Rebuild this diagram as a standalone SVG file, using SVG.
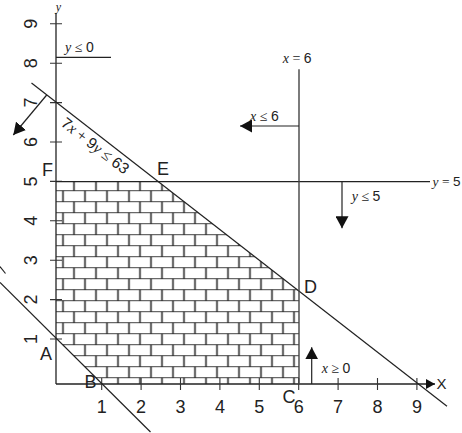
<svg xmlns="http://www.w3.org/2000/svg" width="462" height="433" viewBox="0 0 462 433">
<style>
  .ln{stroke:#222;stroke-width:1.2;fill:none}
  .ax{stroke:#222;stroke-width:1.3;fill:none}
  .tk{stroke:#333;stroke-width:1.1}
  .num{font-family:"Liberation Sans",Arial,sans-serif;font-size:18px;fill:#222}
  .pt{font-family:"Liberation Sans",Arial,sans-serif;font-size:18px;fill:#222}
  .eq{font-family:"Liberation Serif","Times New Roman",serif;font-size:14px;fill:#222}
  .i{font-style:italic}
  .n{font-family:"Liberation Sans",Arial,sans-serif}
</style>
<defs>
  <pattern id="brick" patternUnits="userSpaceOnUse" x="57.5" y="185.2" width="22" height="22">
    <path d="M0,5.5H22M0,16.5H22" stroke="#444" stroke-width="1.1"/>
    <path d="M5.5,5.5V16.5M16.5,16.5V22M16.5,0V5.5" stroke="#111" stroke-width="1.4"/>
  </pattern>
  <marker id="ah" markerUnits="userSpaceOnUse" viewBox="0 0 12 13" refX="12" refY="6.5" markerWidth="12" markerHeight="13" orient="auto">
    <path d="M0,0L12,6.5L0,13z" fill="#111"/>
  </marker>
  <marker id="ahs" markerUnits="userSpaceOnUse" viewBox="0 0 9 10" refX="9" refY="5" markerWidth="9" markerHeight="10" orient="auto">
    <path d="M0,0L9,5L0,10z" fill="#111"/>
  </marker>
</defs>

<g id="feasible-region">
  <polygon points="56,338.1 56,181.7 158.5,181.7 299,291 299,384 102.2,384" fill="url(#brick)" stroke="none"/>
</g>

<g id="axes">
  <line class="ax" x1="56" y1="13" x2="56" y2="384"/>
  <line class="ax" x1="56" y1="384" x2="435" y2="384" marker-end="url(#ahs)"/>
  <g id="x-ticks">
    <path class="tk" d="M101.7,378V390M141.1,378V390M180.5,378V390M219.9,378V390M259.3,378V390M298.7,378V390M338.1,378V390M377.5,378V390M416.9,378V390"/>
  </g>
  <g id="y-ticks">
    <path class="tk" d="M50,339H62M50,299.6H62M50,260.2H62M50,220.8H62M50,181.4H62M50,142H62M50,102.6H62M50,63.2H62M50,23.8H62"/>
  </g>
  <g id="x-labels" class="num" text-anchor="middle">
    <text x="101.7" y="413">1</text>
    <text x="141.1" y="413">2</text>
    <text x="180.5" y="413">3</text>
    <text x="219.9" y="413">4</text>
    <text x="259.3" y="413">5</text>
    <text x="298.7" y="413">6</text>
    <text x="338.1" y="413">7</text>
    <text x="377.5" y="413">8</text>
    <text x="416.9" y="413">9</text>
  </g>
  <g id="y-labels" class="num" text-anchor="middle">
    <text transform="translate(37,339) rotate(-90)">1</text>
    <text transform="translate(37,299.6) rotate(-90)">2</text>
    <text transform="translate(37,260.2) rotate(-90)">3</text>
    <text transform="translate(37,220.8) rotate(-90)">4</text>
    <text transform="translate(37,181.4) rotate(-90)">5</text>
    <text transform="translate(37,142) rotate(-90)">6</text>
    <text transform="translate(37,102.6) rotate(-90)">7</text>
    <text transform="translate(37,63.2) rotate(-90)">8</text>
    <text transform="translate(37,23.8) rotate(-90)">9</text>
  </g>
  <text class="eq i" x="58.5" y="10.5" text-anchor="middle" style="font-size:12px">y</text>
  <text x="436.5" y="388.5" style="font-family:'Liberation Sans',Arial,sans-serif;font-size:15px;fill:#222">X</text>
</g>

<g id="connectors">
  <line class="ln" x1="31.5" y1="83" x2="447" y2="406.2"/>
  <line class="ln" x1="0" y1="282.5" x2="150.5" y2="432"/>
  <line class="ln" x1="0" y1="266.5" x2="5.5" y2="273.5"/>
  <line class="ln" x1="56" y1="181.7" x2="430" y2="181.7"/>
  <line class="ln" x1="299" y1="69.3" x2="299" y2="384" style="stroke:#444;stroke-width:1.4"/>
  <line class="ln" x1="56" y1="57.3" x2="111" y2="57.3"/>
  <line class="ln" x1="46.7" y1="95" x2="13.3" y2="135" marker-end="url(#ah)"/>
  <line class="ln" x1="299" y1="126" x2="240" y2="126" marker-end="url(#ah)"/>
  <line class="ln" x1="342" y1="181.7" x2="342" y2="228.3" marker-end="url(#ah)"/>
  <line class="ln" x1="311.7" y1="384" x2="311.7" y2="347.3" marker-end="url(#ah)"/>
</g>

<g id="constraint-labels" class="eq">
  <text x="65" y="52"><tspan class="i">y</tspan> ≤ <tspan class="n">0</tspan></text>
  <text x="282.7" y="62.7"><tspan class="i">x</tspan> = <tspan class="n">6</tspan></text>
  <text x="250" y="120.7"><tspan class="i">x</tspan> ≤ <tspan class="n">6</tspan></text>
  <text x="432.5" y="185.5" style="font-size:13.5px"><tspan class="i">y</tspan> = <tspan class="n">5</tspan></text>
  <text x="351.7" y="201"><tspan class="i">y</tspan> ≤ <tspan class="n">5</tspan></text>
  <text x="321.7" y="372.5"><tspan class="i">x</tspan> ≥ <tspan class="n">0</tspan></text>
  <text transform="translate(60,125) rotate(37.87)" style="font-size:15.5px"><tspan class="n">7</tspan><tspan class="i">x</tspan> + <tspan class="n">9</tspan><tspan class="i">y</tspan> ≤ <tspan class="n">63</tspan></text>
</g>

<g id="vertex-labels" class="pt">
  <text id="pt-A" x="40" y="360">A</text>
  <text id="pt-B" x="84.5" y="388">B</text>
  <text id="pt-C" x="282.5" y="403">C</text>
  <text id="pt-D" x="304" y="293">D</text>
  <text id="pt-E" x="157" y="175">E</text>
  <text id="pt-F" x="42" y="176">F</text>
</g>
</svg>
